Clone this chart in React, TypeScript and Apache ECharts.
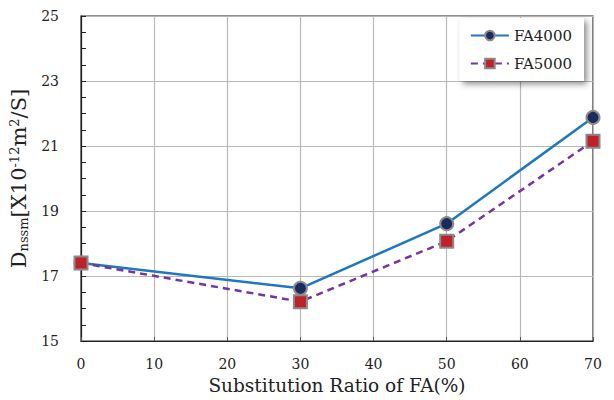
import React, { useEffect, useRef } from "react";
import * as echarts from "echarts";

const xValues = [0, 30, 50, 70];
const fa4000 = [17.4, 16.62, 18.61, 21.88];
const fa5000 = [17.4, 16.21, 18.07, 21.15];
const seriesNames = ["FA4000", "FA5000"];
const xTitle = "Substitution Ratio of FA(%)";

const FONT = "'DejaVu Serif', 'Liberation Serif', serif";

export default function App() {
  const ref = useRef<HTMLDivElement>(null);
  useEffect(() => {
    if (!ref.current) return;
    const chart = echarts.init(ref.current, undefined, { renderer: "svg" });
    chart.setOption({
      animation: false,
      backgroundColor: "#fff",
      grid: {
        left: 81,
        right: 21,
        top: 16,
        bottom: 56,
        show: true,
        borderColor: "#222",
        borderWidth: 1.2,
      },
      legend: {
        orient: "vertical",
        right: 30,
        top: 18,
        data: seriesNames,
        itemWidth: 38,
        itemHeight: 12,
        itemGap: 13,
        padding: [10, 12, 10, 10],
        backgroundColor: "#fff",
        shadowColor: "rgba(0,0,0,0.45)",
        shadowBlur: 6,
        shadowOffsetX: 3,
        shadowOffsetY: 3,
        textStyle: { fontFamily: FONT, fontSize: 15, color: "#222" },
      },
      xAxis: {
        type: "value",
        min: 0,
        max: 70,
        interval: 10,
        name: xTitle,
        nameLocation: "middle",
        nameGap: 35,
        nameTextStyle: { fontFamily: FONT, fontSize: 18.5, color: "#222" },
        axisLine: { lineStyle: { color: "#222", width: 1.2 } },
        axisTick: { show: true, inside: true, length: 4, lineStyle: { color: "#555" } },
        axisLabel: { fontFamily: FONT, fontSize: 14, color: "#222", margin: 16 },
        splitLine: { show: true, lineStyle: { color: "#b8b8b8", width: 1.2 } },
      },
      yAxis: {
        type: "value",
        min: 15,
        max: 25,
        interval: 2,
        name: "D{sub|nssm}[X10{sup|-12}m{sup|2}/S]",
        nameLocation: "middle",
        nameRotate: 90,
        nameGap: 43,
        nameTextStyle: {
          fontFamily: FONT,
          fontSize: 21,
          color: "#222",
          rich: {
            sub: { fontFamily: FONT, fontSize: 13, color: "#222", verticalAlign: "bottom", padding: [9, 0, 0, 0] },
            sup: { fontFamily: FONT, fontSize: 13, color: "#222", verticalAlign: "top", padding: [0, 0, 9, 0] },
          },
        },
        axisLine: { show: true, lineStyle: { color: "#222", width: 1.2 } },
        axisTick: { show: true, inside: true, length: 5, lineStyle: { color: "#222" } },
        minorTick: { show: true, splitNumber: 4, length: 5, lineStyle: { color: "#222" } },
        axisLabel: { fontFamily: FONT, fontSize: 14, color: "#222", margin: 22 },
        splitLine: { show: true, lineStyle: { color: "#b8b8b8", width: 1.2 } },
      },
      series: [
        {
          name: seriesNames[0],
          type: "line",
          data: xValues.map((x, i) => [x, fa4000[i]]),
          symbol: "circle",
          symbolSize: 13,
          lineStyle: { color: "#1f77c0", width: 2.5 },
          itemStyle: { color: "#1c2a5e", borderColor: "#8a8a8a", borderWidth: 2 },
          z: 3,
        },
        {
          name: seriesNames[1],
          type: "line",
          data: xValues.map((x, i) => [x, fa5000[i]]),
          symbol: "rect",
          symbolSize: 13,
          lineStyle: { color: "#7434a4", width: 2.5, type: [7, 5] },
          itemStyle: { color: "#c0202a", borderColor: "#8a8a8a", borderWidth: 2 },
          z: 4,
        },
      ],
    });
    return () => chart.dispose();
  }, []);
  return <div ref={ref} style={{ width: 614, height: 400, position: "absolute", left: 0, top: 0 }} />;
}
